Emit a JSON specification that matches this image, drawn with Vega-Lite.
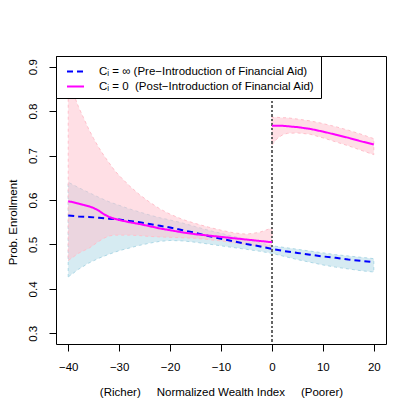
{
"$schema": "https://vega.github.io/schema/vega-lite/v6.json",
"width": 330, "height": 288,
"autosize": {"type": "none"},
"padding": {"left": 56, "top": 56, "right": 29, "bottom": 71},
"background": "white",
"config": {
  "font": "Liberation Sans",
  "view": {"stroke": "black", "strokeWidth": 1},
  "axis": {"grid": false, "domain": false, "tickColor": "black", "tickSize": 7, "labelColor": "black", "labelFontSize": 11.5, "titleFontSize": 11.5, "titleFontWeight": "normal", "titleColor": "black", "labelFlush": false}
},
"data": {"values": [
{"series":"pre","seg":"A","x":-40,"y":0.565,"lo":0.427,"hi":0.640},
{"series":"pre","seg":"A","x":-38,"y":0.563,"lo":0.444,"hi":0.628},
{"series":"pre","seg":"A","x":-36,"y":0.562,"lo":0.458,"hi":0.617},
{"series":"pre","seg":"A","x":-34,"y":0.560,"lo":0.469,"hi":0.606},
{"series":"pre","seg":"A","x":-32,"y":0.558,"lo":0.478,"hi":0.596},
{"series":"pre","seg":"A","x":-30,"y":0.556,"lo":0.486,"hi":0.588},
{"series":"pre","seg":"A","x":-28,"y":0.553,"lo":0.492,"hi":0.580},
{"series":"pre","seg":"A","x":-26,"y":0.550,"lo":0.498,"hi":0.573},
{"series":"pre","seg":"A","x":-24,"y":0.546,"lo":0.503,"hi":0.566},
{"series":"pre","seg":"A","x":-22,"y":0.542,"lo":0.507,"hi":0.560},
{"series":"pre","seg":"A","x":-20,"y":0.538,"lo":0.509,"hi":0.555},
{"series":"pre","seg":"A","x":-17.5,"y":0.532,"lo":0.508,"hi":0.548},
{"series":"pre","seg":"A","x":-15,"y":0.526,"lo":0.505,"hi":0.540},
{"series":"pre","seg":"A","x":-12.5,"y":0.519,"lo":0.501,"hi":0.532},
{"series":"pre","seg":"A","x":-10,"y":0.513,"lo":0.497,"hi":0.525},
{"series":"pre","seg":"A","x":-7.5,"y":0.507,"lo":0.493,"hi":0.518},
{"series":"pre","seg":"A","x":-5,"y":0.501,"lo":0.489,"hi":0.511},
{"series":"pre","seg":"A","x":-2.5,"y":0.496,"lo":0.485,"hi":0.504},
{"series":"pre","seg":"A","x":0,"y":0.490,"lo":0.480,"hi":0.497},
{"series":"pre","seg":"A","x":2.5,"y":0.485,"lo":0.473,"hi":0.493},
{"series":"pre","seg":"A","x":5,"y":0.481,"lo":0.466,"hi":0.489},
{"series":"pre","seg":"A","x":7.5,"y":0.477,"lo":0.460,"hi":0.485},
{"series":"pre","seg":"A","x":10,"y":0.473,"lo":0.454,"hi":0.481},
{"series":"pre","seg":"A","x":12.5,"y":0.470,"lo":0.449,"hi":0.477},
{"series":"pre","seg":"A","x":15,"y":0.466,"lo":0.445,"hi":0.474},
{"series":"pre","seg":"A","x":17.5,"y":0.463,"lo":0.441,"hi":0.471},
{"series":"pre","seg":"A","x":20,"y":0.460,"lo":0.438,"hi":0.468},
{"series":"post","seg":"L","x":-40,"y":0.597,"lo":0.464,"hi":0.870},
{"series":"post","seg":"L","x":-39,"y":0.595,"lo":0.472,"hi":0.840},
{"series":"post","seg":"L","x":-38,"y":0.592,"lo":0.480,"hi":0.810},
{"series":"post","seg":"L","x":-37,"y":0.589,"lo":0.486,"hi":0.785},
{"series":"post","seg":"L","x":-36,"y":0.586,"lo":0.491,"hi":0.760},
{"series":"post","seg":"L","x":-35,"y":0.582,"lo":0.499,"hi":0.738},
{"series":"post","seg":"L","x":-34,"y":0.576,"lo":0.507,"hi":0.718},
{"series":"post","seg":"L","x":-33,"y":0.568,"lo":0.514,"hi":0.700},
{"series":"post","seg":"L","x":-32,"y":0.562,"lo":0.519,"hi":0.684},
{"series":"post","seg":"L","x":-31,"y":0.558,"lo":0.521,"hi":0.668},
{"series":"post","seg":"L","x":-30,"y":0.555,"lo":0.521,"hi":0.655},
{"series":"post","seg":"L","x":-28,"y":0.550,"lo":0.521,"hi":0.632},
{"series":"post","seg":"L","x":-26,"y":0.546,"lo":0.520,"hi":0.612},
{"series":"post","seg":"L","x":-24,"y":0.541,"lo":0.518,"hi":0.595},
{"series":"post","seg":"L","x":-22,"y":0.536,"lo":0.517,"hi":0.580},
{"series":"post","seg":"L","x":-20,"y":0.532,"lo":0.516,"hi":0.568},
{"series":"post","seg":"L","x":-17.5,"y":0.527,"lo":0.515,"hi":0.556},
{"series":"post","seg":"L","x":-15,"y":0.523,"lo":0.514,"hi":0.547},
{"series":"post","seg":"L","x":-12.5,"y":0.520,"lo":0.511,"hi":0.539},
{"series":"post","seg":"L","x":-10,"y":0.517,"lo":0.508,"hi":0.532},
{"series":"post","seg":"L","x":-7.5,"y":0.514,"lo":0.504,"hi":0.526},
{"series":"post","seg":"L","x":-5,"y":0.511,"lo":0.500,"hi":0.523},
{"series":"post","seg":"L","x":-2.5,"y":0.508,"lo":0.497,"hi":0.527},
{"series":"post","seg":"L","x":0,"y":0.505,"lo":0.494,"hi":0.537},
{"series":"post","seg":"R","x":0,"y":0.767,"lo":0.724,"hi":0.786},
{"series":"post","seg":"R","x":1,"y":0.767,"lo":0.738,"hi":0.786},
{"series":"post","seg":"R","x":2,"y":0.767,"lo":0.746,"hi":0.785},
{"series":"post","seg":"R","x":3,"y":0.766,"lo":0.750,"hi":0.785},
{"series":"post","seg":"R","x":5,"y":0.764,"lo":0.751,"hi":0.782},
{"series":"post","seg":"R","x":7.5,"y":0.760,"lo":0.748,"hi":0.778},
{"series":"post","seg":"R","x":10,"y":0.754,"lo":0.740,"hi":0.772},
{"series":"post","seg":"R","x":12.5,"y":0.747,"lo":0.731,"hi":0.765},
{"series":"post","seg":"R","x":15,"y":0.740,"lo":0.722,"hi":0.757},
{"series":"post","seg":"R","x":17.5,"y":0.732,"lo":0.712,"hi":0.748},
{"series":"post","seg":"R","x":20,"y":0.725,"lo":0.702,"hi":0.738}
]},
"encoding": {
  "x": {"field": "x", "type": "quantitative", "scale": {"domain": [-42.4, 22.4], "nice": false, "zero": false},
        "axis": {"values": [-40,-30,-20,-10,0,10,20], "labelPadding": 10, "titlePadding": 14,
                 "title": "(Richer)\u00a0\u00a0\u00a0\u00a0\u00a0Normalized Wealth Index\u00a0\u00a0\u00a0\u00a0\u00a0(Poorer)"}},
  "y": {"type": "quantitative", "scale": {"domain": [0.276, 0.924], "nice": false, "zero": false}}
},
"layer": [
  {"transform": [{"filter": "datum.series === 'pre'"}],
   "mark": {"type": "area", "fill": "#ADD8E6", "fillOpacity": 0.5, "stroke": "#ADD8E6", "strokeDash": [3,3], "strokeWidth": 1, "clip": true},
   "encoding": {"y": {"field": "lo", "type": "quantitative",
      "axis": {"values": [0.3,0.4,0.5,0.6,0.7,0.8,0.9], "format": ".1f", "labelAngle": 270, "labelAlign": "center", "labelBaseline": "bottom", "labelPadding": 11, "title": "Prob. Enrollment", "titleX": -38, "titleY": 166}},
     "y2": {"field": "hi"}, "detail": {"field": "seg"}}},
  {"transform": [{"filter": "datum.series === 'post'"}],
   "mark": {"type": "area", "fill": "#FFC0CB", "fillOpacity": 0.5, "stroke": "#FFC0CB", "strokeDash": [3,3], "strokeWidth": 1, "clip": true},
   "encoding": {"y": {"field": "lo", "type": "quantitative"}, "y2": {"field": "hi"}, "detail": {"field": "seg"}}},
  {"mark": {"type": "rule", "color": "#666666", "strokeDash": [2,2.5], "strokeWidth": 1},
   "encoding": {"x": {"datum": 0}, "y": {"value": 0}, "y2": {"value": 288}}},
  {"mark": {"type": "line", "strokeWidth": 2},
   "encoding": {
     "y": {"field": "y", "type": "quantitative"},
     "detail": {"field": "seg"},
     "order": {"field": "x", "type": "quantitative"},
     "color": {"field": "series", "type": "nominal", "scale": {"domain": ["pre","post"], "range": ["#0000FF","#FF00FF"]},
        "legend": {"orient": "top-left", "offset": 0, "title": null, "padding": 6, "symbolOffset": 4, "strokeColor": "black", "fillColor": "white", "symbolType": "stroke", "symbolSize": 289, "symbolStrokeWidth": 2, "labelFontSize": 11.5, "labelColor": "black", "labelOffset": 14, "labelLimit": 500, "rowPadding": -5, "cornerRadius": 0,
          "labelExpr": "datum.value === 'pre' ? 'C\u1d62 = \u221e (Pre\u2212Introduction of Financial Aid)' : 'C\u1d62 = 0\u00a0 (Post\u2212Introduction of Financial Aid)'"}},
     "strokeDash": {"field": "series", "type": "nominal", "scale": {"domain": ["pre","post"], "range": [[6,4],[1,0]]},
        "legend": {"orient": "top-left", "offset": 0, "title": null, "padding": 6, "symbolOffset": 4, "strokeColor": "black", "fillColor": "white", "symbolType": "stroke", "symbolSize": 289, "symbolStrokeWidth": 2, "labelFontSize": 11.5, "labelColor": "black", "labelOffset": 14, "labelLimit": 500, "rowPadding": -5, "cornerRadius": 0,
          "labelExpr": "datum.value === 'pre' ? 'C\u1d62 = \u221e (Pre\u2212Introduction of Financial Aid)' : 'C\u1d62 = 0\u00a0 (Post\u2212Introduction of Financial Aid)'"}}
   }}
]
}
